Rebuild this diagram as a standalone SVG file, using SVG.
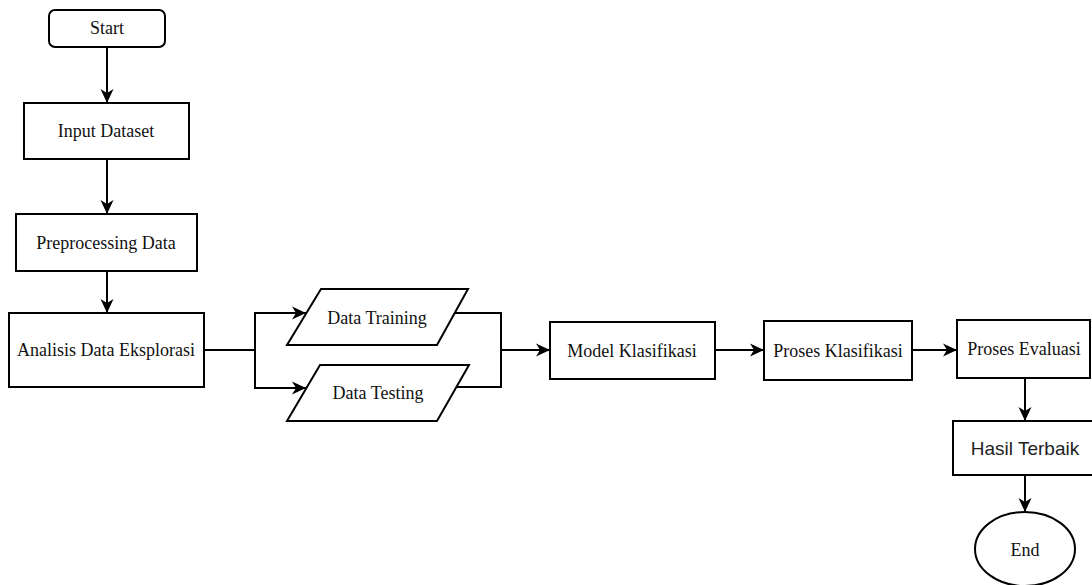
<svg xmlns="http://www.w3.org/2000/svg" width="1092" height="585" viewBox="0 0 1092 585">
<defs>
<style>
.box{fill:#fff;stroke:#000;stroke-width:2}
.t{font-family:"Liberation Serif","Times New Roman",serif;font-size:18px;fill:#111;text-anchor:middle}
.ts{font-family:"Liberation Sans",Arial,sans-serif;font-size:19px;fill:#222;text-anchor:middle}
.c{fill:none;stroke:#000;stroke-width:2}
</style>
<marker id="arr" markerUnits="userSpaceOnUse" markerWidth="16" markerHeight="16" viewBox="0 0 16 16" refX="14" refY="8" orient="auto">
<path d="M0,1.5 L14,8 L0,14.5 L4,8 Z" fill="#000"/>
</marker>
</defs>
<rect width="1092" height="585" fill="#fff"/>
<g id="connectors">
<path class="c" d="M107,47 V103" marker-end="url(#arr)"/>
<path class="c" d="M107,159 V214" marker-end="url(#arr)"/>
<path class="c" d="M107,271 V313" marker-end="url(#arr)"/>
<path class="c" d="M204,350 H255"/>
<path class="c" d="M255,350 V313 H306" marker-end="url(#arr)"/>
<path class="c" d="M255,350 V388 H306" marker-end="url(#arr)"/>
<path class="c" d="M455,313 H501 V387 H456"/>
<path class="c" d="M501,350 H550" marker-end="url(#arr)"/>
<path class="c" d="M715,350 H764" marker-end="url(#arr)"/>
<path class="c" d="M912,350 H957" marker-end="url(#arr)"/>
<path class="c" d="M1025,378 V421" marker-end="url(#arr)"/>
<path class="c" d="M1025,475 V512" marker-end="url(#arr)"/>
</g>
<g id="start"><rect class="box" x="49" y="10" width="116" height="37" rx="6"/><text class="t" x="107" y="34">Start</text></g>
<g id="input"><rect class="box" x="24" y="103" width="165" height="56"/><text class="t" x="106" y="137">Input Dataset</text></g>
<g id="preprocessing"><rect class="box" x="16" y="214" width="181" height="57"/><text class="t" x="106" y="249">Preprocessing Data</text></g>
<g id="analisis"><rect class="box" x="9" y="313" width="195" height="74"/><text class="t" x="106" y="356">Analisis Data Eksplorasi</text></g>
<g id="training"><polygon class="box" points="321,289 468,289 437,345 287,345"/><text class="t" x="377" y="324">Data Training</text></g>
<g id="testing"><polygon class="box" points="320,365 469,365 437,421 287,421"/><text class="t" x="378" y="399">Data Testing</text></g>
<g id="model"><rect class="box" x="550" y="322" width="165" height="57"/><text class="t" x="632" y="357">Model Klasifikasi</text></g>
<g id="proses-klasifikasi"><rect class="box" x="764" y="321" width="148" height="59"/><text class="t" x="838" y="357">Proses Klasifikasi</text></g>
<g id="proses-evaluasi"><rect class="box" x="957" y="320" width="133" height="58"/><text class="t" x="1024" y="355">Proses Evaluasi</text></g>
<g id="hasil"><rect class="box" x="953" y="421" width="142" height="54"/><text class="ts" x="1025" y="455">Hasil Terbaik</text></g>
<g id="end"><ellipse class="box" cx="1025" cy="549" rx="50" ry="37"/><text class="t" x="1025" y="556">End</text></g>
</svg>
